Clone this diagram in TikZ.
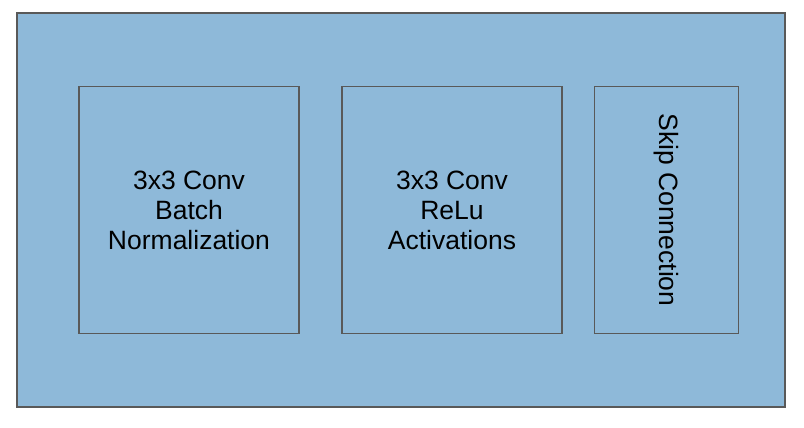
\documentclass[tikz,border=0pt]{standalone}
\usepackage{fontspec}
\setmainfont{Liberation Sans}

\definecolor{blockfill}{HTML}{8EB9D9}
\definecolor{blockline}{HTML}{595959}

\begin{document}
\begin{tikzpicture}[x=1pt, y=-1pt,
    block/.style={draw=blockline, fill=blockfill, line width=1.5pt,
        inner sep=0pt, align=center, font=\fontsize{26.5}{30}\selectfont}]

    \useasboundingbox (0,0) rectangle (804,428);

    % Outer frame
    \node[block, line width=2pt, minimum width=768pt, minimum height=394pt] (frame) at (401,210) {};

    % Two conv blocks, side by side
    \node[block, minimum width=220pt, minimum height=247pt] (convbn) at (189,210) {3x3 Conv\\Batch\\Normalization};
    \node[block, minimum width=220pt, minimum height=247pt] (convrelu) at (452,210) {3x3 Conv\\ReLu\\Activations};

    % Skip block, text runs top to bottom
    \node[block, rotate=-90, minimum width=247pt, minimum height=144pt] (skip) at (666.5,210) {Skip Connection};

\end{tikzpicture}
\end{document}
